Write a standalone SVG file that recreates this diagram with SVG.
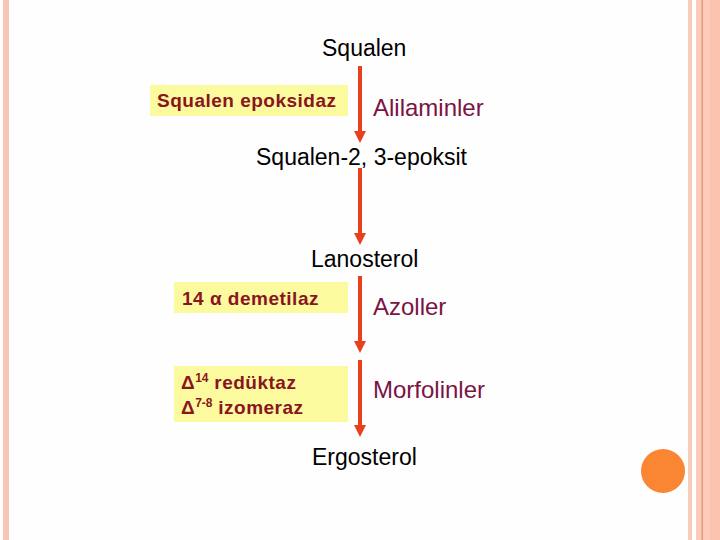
<svg xmlns="http://www.w3.org/2000/svg" width="720" height="540" viewBox="0 0 720 540">
<style>
.main{font-family:"Liberation Sans",Arial,sans-serif;font-size:23px;fill:#000}
.drug{font-family:"Liberation Sans",Arial,sans-serif;font-size:24px;fill:#7A1444}
.enz{font-family:"Liberation Sans",Arial,sans-serif;font-size:19px;font-weight:bold;letter-spacing:0.5px;fill:#8A1420}
.box{fill:#FCFA9E}
.arr{stroke:#E8401C;stroke-width:4;fill:none}
.head{fill:#E8401C}
</style>
<rect width="720" height="540" fill="#FEFEFE"/>
<rect x="3" y="0" width="6" height="540" fill="#F8C6B4"/>
<rect x="688" y="0" width="4" height="540" fill="#F9CBBB"/>
<rect x="696" y="0" width="24" height="540" fill="#FCCBB9"/>
<rect x="710" y="0" width="10" height="540" fill="#FDC3B1"/>
<rect x="701.5" y="0" width="1.5" height="540" fill="#E59A78"/>
<circle cx="663" cy="471" r="22" fill="#FA8532"/>

<g id="connectors">
<line class="arr" x1="360" y1="66" x2="360" y2="131"/>
<path class="head" d="M354,131 L366,131 L360,143 Z"/>
<line class="arr" x1="360" y1="168" x2="360" y2="233"/>
<path class="head" d="M354,233 L366,233 L360,245 Z"/>
<line class="arr" x1="360" y1="276" x2="360" y2="341"/>
<path class="head" d="M354,341 L366,341 L360,353 Z"/>
<line class="arr" x1="360" y1="360" x2="360" y2="425"/>
<path class="head" d="M354,425 L366,425 L360,437 Z"/>
</g>

<g id="squalen"><text class="main" x="322" y="56">Squalen</text></g>
<g id="squalen-epoksidaz">
<rect class="box" x="150" y="85" width="198" height="31"/>
<text class="enz" x="157" y="107">Squalen epoksidaz</text>
</g>
<g id="alilaminler"><text class="drug" x="373" y="116">Alilaminler</text></g>
<g id="squalen-epoksit"><text class="main" x="256" y="165">Squalen-2, 3-epoksit</text></g>
<g id="lanosterol"><text class="main" x="311" y="267">Lanosterol</text></g>
<g id="demetilaz">
<rect class="box" x="174" y="282" width="174" height="31"/>
<text class="enz" x="182" y="305">14 α demetilaz</text>
</g>
<g id="azoller"><text class="drug" x="373" y="315">Azoller</text></g>
<g id="reduktaz-izomeraz">
<rect class="box" x="174" y="366" width="174" height="56"/>
<text class="enz" x="181" y="389">Δ<tspan font-size="12" letter-spacing="0" dy="-7">14</tspan><tspan dy="7">  redüktaz</tspan></text>
<text class="enz" x="181" y="414">Δ<tspan font-size="12" letter-spacing="0" dy="-7">7-8</tspan><tspan dy="7">  izomeraz</tspan></text>
</g>
<g id="morfolinler"><text class="drug" x="373" y="398">Morfolinler</text></g>
<g id="ergosterol"><text class="main" x="312" y="465">Ergosterol</text></g>
</svg>
